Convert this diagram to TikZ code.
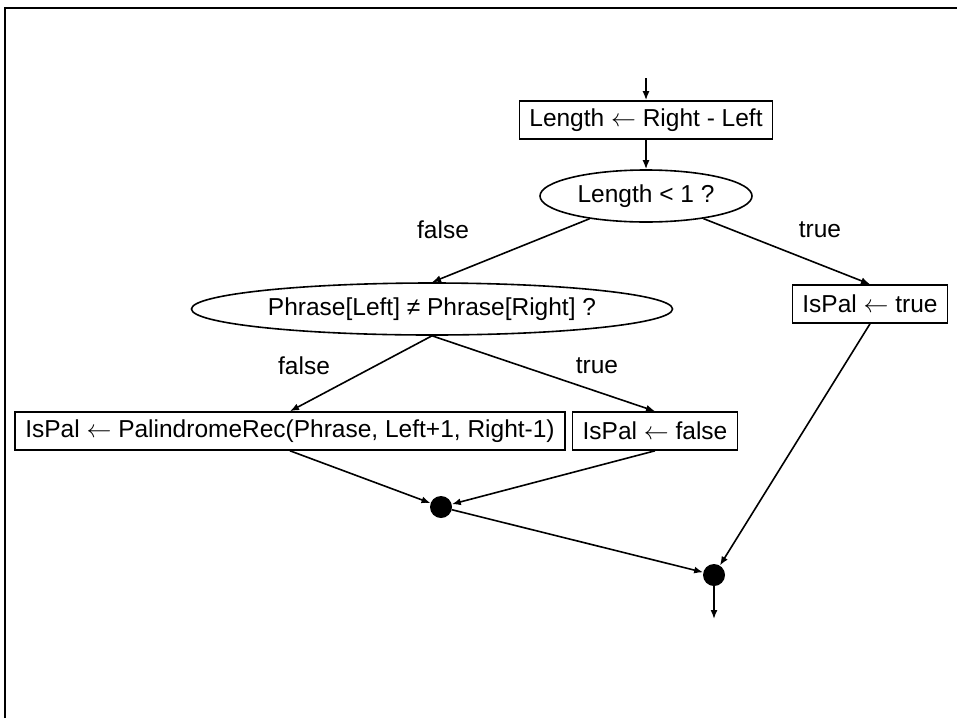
\documentclass[tikz,border=0pt]{standalone}
\usepackage{fontspec}
\setmainfont{Liberation Sans}
\usetikzlibrary{shapes.geometric,arrows.meta}
\tikzset{
  box/.style={draw,line width=1.6pt,minimum height=38pt,inner xsep=10pt},
  decision/.style={draw,ellipse,line width=1.6pt,minimum height=52pt,inner sep=0pt},
  joint/.style={circle,fill,minimum size=22pt,inner sep=0pt},
  flow/.style={line width=1.6pt,-{Latex[length=9pt,width=7pt]}},
}
\begin{document}
\begin{tikzpicture}[x=1pt,y=-1pt,font=\fontsize{24.5}{29}\selectfont]
      \useasboundingbox (0,0) rectangle (957,718);
      \draw[line width=2pt] (5,718) -- (5,8) -- (957,8);
      \coordinate (start) at (646,78);
      \node[box] (len) at (646,120) {Length $\leftarrow$ Right - Left};
      \node[decision,minimum width=212pt] (short) at (646,196) {Length < 1 ?};
      \node[decision,minimum width=481pt] (differ) at (432,309) {Phrase[Left] ≠ Phrase[Right] ?};
      \node[box] (paltrue) at (870,304) {IsPal $\leftarrow$ true};
      \node[box] (recurse) at (290,431) {IsPal $\leftarrow$ PalindromeRec(Phrase, Left+1, Right-1)};
      \node[box] (palfalse) at (655,431) {IsPal $\leftarrow$ false};
      \node[joint] (joinin) at (441,507) {};
      \node[joint] (joinout) at (714,575) {};
      \coordinate (stop) at (714,619);
      \node at (443,230) {false};
      \node at (820,230) {true};
      \node at (304,366) {false};
      \node at (597,366) {true};
      \draw[flow] (start) -- (len);
      \draw[flow] (len) -- (short);
      \draw[flow] (short) -- (differ.north);
      \draw[flow] (short) -- (paltrue.north);
      \draw[flow] (differ.south) -- (recurse.north);
      \draw[flow] (differ.south) -- (palfalse.north);
      \draw[flow] (recurse.south) -- (joinin);
      \draw[flow] (palfalse.south) -- (joinin);
      \draw[flow] (joinin) -- (joinout);
      \draw[flow] (paltrue.south) -- (joinout);
      \draw[flow] (joinout) -- (stop);
    \end{tikzpicture}
\end{document}
